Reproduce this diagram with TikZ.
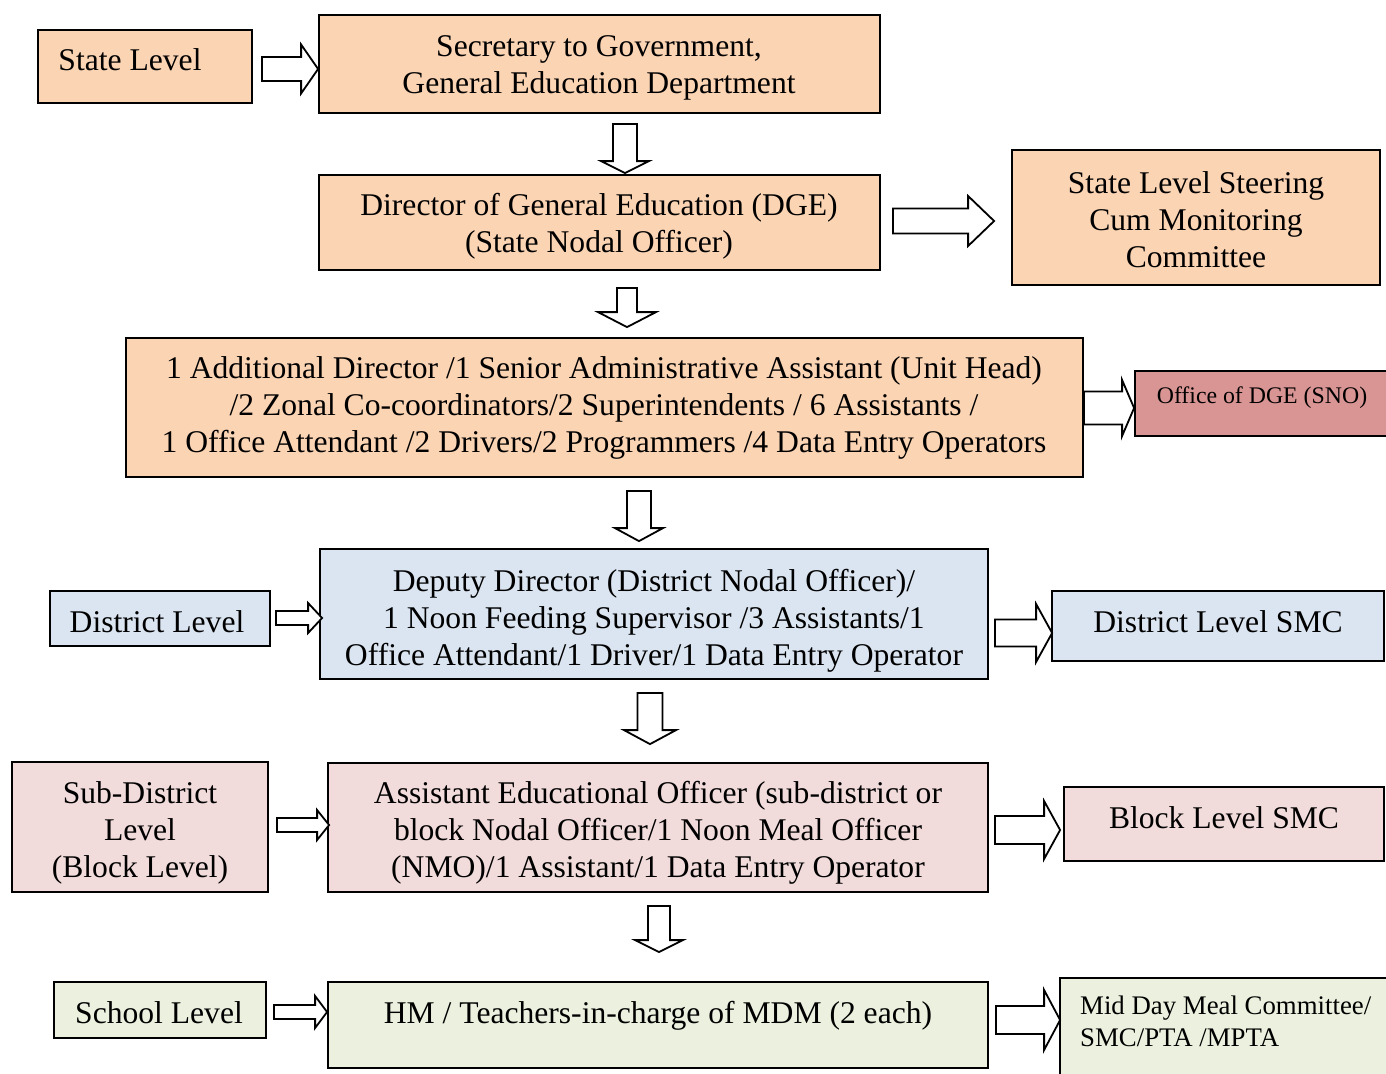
\documentclass[tikz,border=0pt]{standalone}
\usepackage{fontspec}
\setmainfont{Liberation Serif}
\usetikzlibrary{calc}
\definecolor{peach}{HTML}{FBD4B4}
\definecolor{rose}{HTML}{D99594}
\definecolor{lblue}{HTML}{DBE5F1}
\definecolor{lpink}{HTML}{F2DCDB}
\definecolor{lgreen}{HTML}{EBF1DE}
\tikzset{
  box/.style={draw=black, line width=1.8pt, inner sep=0pt, rectangle},
  txt/.style={inner sep=0pt, align=center, font=\fontsize{31.6}{37}\selectfont},
  blk/.style={draw=black, fill=white, line width=1.8pt, line join=miter},
}
% right block arrow: start, end(tip x), shaft half, head half, head length
\newcommand\rarr[5]{\draw[blk] let \p1=#1, \p2=#2 in
  (\x1,\y1+#3) -- (\x2-#5,\y1+#3) -- (\x2-#5,\y1+#4) -- (\x2,\y1) --
  (\x2-#5,\y1-#4) -- (\x2-#5,\y1-#3) -- (\x1,\y1-#3) -- cycle;}
% down block arrow: start(top centre), end(tip y), shaft half, head half, head length
\newcommand\darr[5]{\draw[blk] let \p1=#1, \p2=#2 in
  (\x1-#3,\y1) -- (\x1-#3,\y2+#5) -- (\x1-#4,\y2+#5) -- (\x1,\y2) --
  (\x1+#4,\y2+#5) -- (\x1+#3,\y2+#5) -- (\x1+#3,\y1) -- cycle;}
\begin{document}
\begin{tikzpicture}[x=1pt,y=-1pt]
\clip (0,0) rectangle (1386,1073);
\fill[white] (0,0) rectangle (1386,1073);
% boxes
\node[box, fill=peach, minimum width=214pt, minimum height=73pt] (state) at (145,66.5) {};
\node[box, fill=peach, minimum width=561pt, minimum height=98pt] (sec) at (599.5,64) {};
\node[box, fill=peach, minimum width=561pt, minimum height=95pt] (dge) at (599.5,222.5) {};
\node[box, fill=peach, minimum width=368pt, minimum height=135pt] (steer) at (1196,217.5) {};
\node[box, fill=peach, minimum width=957pt, minimum height=139pt] (big) at (604.5,407.5) {};
\node[box, fill=rose, minimum width=257pt, minimum height=65pt] (office) at (1263.5,403.5) {};
\node[box, fill=lblue, minimum width=220pt, minimum height=55pt] (dlevel) at (160,618.5) {};
\node[box, fill=lblue, minimum width=668pt, minimum height=130pt] (deputy) at (654,614) {};
\node[box, fill=lblue, minimum width=332pt, minimum height=70pt] (dsmc) at (1218,626) {};
\node[box, fill=lpink, minimum width=256pt, minimum height=130pt] (sub) at (140,827) {};
\node[box, fill=lpink, minimum width=660pt, minimum height=129pt] (aeo) at (658,827.5) {};
\node[box, fill=lpink, minimum width=320pt, minimum height=74pt] (bsmc) at (1224,824) {};
\node[box, fill=lgreen, minimum width=212pt, minimum height=56pt] (school) at (160,1010) {};
\node[box, fill=lgreen, minimum width=660pt, minimum height=86pt] (hm) at (658,1025) {};
\node[box, fill=lgreen, minimum width=335pt, minimum height=107pt] (mdm) at (1227.5,1031.5) {};
% texts
\node[txt] (stateT) at (130,60) {State Level};
\node[txt] (secT) at (599,67.5) {Secretary to Government,\\General Education Department};
\node[txt] (dgeT) at (599,226.5) {Director of General Education (DGE)\\(State Nodal Officer)};
\node[txt] (steerT) at (1196,220) {State Level Steering\\Cum Monitoring\\Committee};
\node[txt] (bigT) at (604,408) {1 Additional Director /1 Senior Administrative Assistant (Unit Head)\\/2 Zonal Co-coordinators/2 Superintendents / 6 Assistants /\\1 Office Attendant /2 Drivers/2 Programmers /4 Data Entry Operators};
\node[txt, font=\fontsize{23.8}{28}\selectfont] (officeT) at (1262,398) {Office of DGE (SNO)};
\node[txt] (dlevelT) at (157,622) {District Level};
\node[txt] (deputyT) at (654,620.5) {Deputy Director (District Nodal Officer)/\\1 Noon Feeding Supervisor /3 Assistants/1\\Office Attendant/1 Driver/1 Data Entry Operator};
\node[txt] (dsmcT) at (1218,622) {District Level SMC};
\node[txt] (subT) at (140,832.5) {Sub-District\\Level\\(Block Level)};
\node[txt] (aeoT) at (658,832.5) {Assistant Educational Officer (sub-district or\\block Nodal Officer/1 Noon Meal Officer\\(NMO)/1 Assistant/1 Data Entry Operator};
\node[txt] (bsmcT) at (1224,818) {Block Level SMC};
\node[txt] (schoolT) at (159,1013) {School Level};
\node[txt] (hmT) at (658,1016) {HM / Teachers-in-charge of MDM (2 each)};
\node[txt, align=left, anchor=north west, font=\fontsize{26.8}{32}\selectfont] (mdmT) at (1080,996) {Mid Day Meal Committee/\\SMC/PTA /MPTA};
% right arrows
\rarr{($(state.east)+(9,2.5)$)}{(sec.west)}{12pt}{24.5pt}{17pt}
\rarr{($(dge.east)+(12,-1.5)$)}{($(steer.west)+(-17,0)$)}{12.5pt}{25pt}{26pt}
\rarr{($(big.east)+(0,0.5)$)}{(office.west)}{16.5pt}{28pt}{12pt}
\rarr{($(dlevel.east)+(5,-0.5)$)}{($(deputy.west)+(3,0)$)}{7pt}{15pt}{14pt}
\rarr{($(deputy.east)+(6,19)$)}{($(dsmc.west)+(1,0)$)}{13.5pt}{29pt}{16pt}
\rarr{($(sub.east)+(8,-2)$)}{($(aeo.west)+(2,0)$)}{7pt}{15pt}{12pt}
\rarr{($(aeo.east)+(6,2.5)$)}{($(bsmc.west)+(-3,0)$)}{14pt}{29pt}{16pt}
\rarr{($(school.east)+(7,2)$)}{(hm.west)}{7pt}{16pt}{12pt}
\rarr{($(hm.east)+(7,-5)$)}{($(mdm.west)+(1,0)$)}{14pt}{30pt}{16pt}
% down arrows
\darr{($(sec.south)+(25.5,10)$)}{($(dge.north)+(0,-1)$)}{12pt}{24pt}{12pt}
\darr{($(dge.south)+(27.5,17)$)}{($(big.north)+(0,-10)$)}{10pt}{29pt}{15pt}
\darr{($(big.south)+(34.5,13)$)}{($(deputy.north)+(0,-7)$)}{12pt}{24pt}{13pt}
\darr{($(deputy.south)+(-4,13)$)}{($(aeo.north)+(0,-18)$)}{12.5pt}{26pt}{14pt}
\darr{($(aeo.south)+(1,13)$)}{($(hm.north)+(0,-29)$)}{11pt}{24pt}{12pt}
\end{tikzpicture}
\end{document}
